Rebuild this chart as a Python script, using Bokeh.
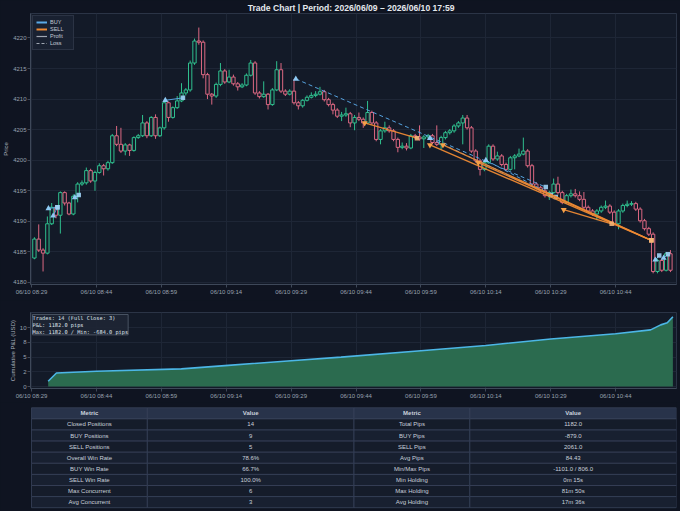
import pandas as pd
from bokeh.plotting import figure
from bokeh.models import (Range1d, FixedTicker, DatetimeTickFormatter, Legend, LegendItem,
                          Label, ColumnDataSource)
from bokeh.layouts import column
from bokeh.embed import file_html
from bokeh.resources import INLINE
from bokeh.core.properties import value

# ---------------- data ----------------
DAY = "2026-06-10"
CANDLE_START = "08:29:40"
first_open = 4184.0
closes = [4187.1, 4185.3, 4184.8, 4189.6, 4192.3, 4191.0, 4194.7, 4193.0, 4191.2, 4194.1,
          4196.1, 4196.3, 4198.3, 4196.6, 4198.0, 4199.1, 4198.6, 4199.6, 4204.0, 4202.6,
          4201.5, 4202.5, 4201.6, 4203.7, 4204.0, 4206.1, 4204.0, 4207.0, 4204.0, 4205.3,
          4209.4, 4207.0, 4208.6, 4209.7, 4211.0, 4211.5, 4215.9, 4219.5, 4219.3, 4214.0,
          4210.8, 4210.5, 4212.4, 4214.6, 4212.8, 4213.6, 4212.5, 4212.0, 4212.3, 4213.9,
          4215.9, 4211.0, 4210.4, 4210.8, 4209.1, 4211.5, 4214.8, 4211.3, 4210.8, 4211.3,
          4209.4, 4208.9, 4209.8, 4210.3, 4210.6, 4210.8, 4211.2, 4209.9, 4209.1, 4208.2,
          4207.2, 4207.4, 4207.6, 4206.1, 4207.0, 4206.7, 4206.1, 4207.8, 4206.1, 4203.4,
          4204.8, 4205.3, 4204.8, 4203.4, 4202.1, 4202.3, 4202.0, 4204.0, 4203.8, 4203.5,
          4203.8, 4204.0, 4202.9, 4202.6, 4203.7, 4204.5, 4204.8, 4205.6, 4206.1, 4206.9,
          4205.3, 4201.5, 4199.9, 4198.5, 4199.6, 4202.3, 4200.2, 4200.7, 4199.3, 4198.5,
          4200.4, 4200.7, 4201.0, 4201.5, 4199.1, 4196.1, 4195.5, 4195.0, 4194.2, 4194.7,
          4196.1, 4194.7, 4193.1, 4194.2, 4194.5, 4194.2, 4193.6, 4192.3, 4191.7, 4191.2,
          4191.7, 4192.3, 4192.5, 4191.5, 4189.6, 4191.7, 4192.6, 4192.8, 4192.9, 4192.0,
          4190.1, 4188.8, 4187.9, 4181.8, 4183.6, 4182.0, 4184.7, 4182.0]
highs = [4187.4, 4189.5, 4185.6, 4190.8, 4193.0, 4192.6, 4194.9, 4194.9, 4193.2, 4194.4,
         4196.4, 4196.7, 4198.8, 4198.6, 4198.3, 4199.5, 4199.4, 4199.9, 4204.3, 4205.6,
         4205.3, 4202.8, 4202.7, 4203.9, 4204.3, 4207.4, 4206.4, 4207.2, 4207.5, 4205.5,
         4209.8, 4209.6, 4208.8, 4210.5, 4212.6, 4211.8, 4216.3, 4219.9, 4221.7, 4219.6,
         4214.3, 4211.0, 4212.7, 4215.9, 4214.9, 4214.8, 4214.0, 4212.8, 4212.6, 4214.2,
         4216.4, 4216.2, 4211.3, 4212.9, 4211.0, 4211.8, 4216.2, 4215.9, 4211.6, 4211.6,
         4213.3, 4209.7, 4210.0, 4210.6, 4211.1, 4211.3, 4212.0, 4211.5, 4210.2, 4209.4,
         4208.5, 4207.9, 4208.6, 4207.9, 4207.4, 4207.8, 4207.0, 4209.7, 4208.1, 4206.4,
         4205.1, 4206.3, 4205.7, 4205.1, 4203.7, 4202.9, 4202.8, 4204.3, 4204.3, 4205.7,
         4204.1, 4204.3, 4204.3, 4205.7, 4204.0, 4204.8, 4205.1, 4205.9, 4206.4, 4207.4,
         4207.4, 4205.6, 4201.8, 4200.2, 4199.9, 4202.6, 4202.6, 4201.4, 4201.0, 4199.6,
         4200.7, 4201.0, 4201.9, 4203.7, 4201.8, 4199.4, 4196.4, 4195.8, 4195.3, 4195.0,
         4197.0, 4197.3, 4195.0, 4194.5, 4195.2, 4195.3, 4194.9, 4194.8, 4192.6, 4192.0,
         4192.0, 4192.6, 4193.4, 4192.8, 4191.8, 4192.0, 4192.9, 4193.4, 4193.3, 4193.2,
         4192.3, 4190.4, 4189.1, 4188.2, 4183.9, 4183.9, 4185.0, 4185.3]
lows = [4183.8, 4185.0, 4181.8, 4184.6, 4189.4, 4190.5, 4188.0, 4192.6, 4191.0, 4191.0,
        4193.1, 4195.8, 4196.0, 4196.3, 4195.0, 4197.8, 4197.5, 4198.3, 4199.4, 4202.3,
        4201.2, 4200.8, 4200.7, 4201.4, 4203.5, 4203.8, 4203.6, 4203.8, 4203.5, 4203.8,
        4205.0, 4206.3, 4206.8, 4208.4, 4209.5, 4210.6, 4211.2, 4215.6, 4218.9, 4213.4,
        4210.0, 4209.1, 4210.2, 4212.1, 4212.5, 4212.6, 4212.2, 4211.4, 4211.8, 4212.1,
        4213.7, 4210.7, 4210.1, 4210.2, 4208.3, 4208.9, 4211.3, 4211.0, 4210.5, 4210.6,
        4209.1, 4208.3, 4208.6, 4209.6, 4210.1, 4210.3, 4210.6, 4209.6, 4208.8, 4207.5,
        4206.9, 4206.4, 4207.1, 4205.4, 4204.9, 4206.4, 4205.3, 4205.9, 4205.8, 4203.1,
        4202.6, 4204.5, 4204.5, 4203.1, 4201.3, 4201.8, 4201.6, 4201.8, 4203.5, 4203.2,
        4202.0, 4203.5, 4202.6, 4202.3, 4201.7, 4203.4, 4204.2, 4204.5, 4205.3, 4202.6,
        4205.0, 4201.2, 4199.6, 4197.5, 4198.2, 4199.4, 4199.9, 4199.9, 4199.0, 4198.2,
        4198.3, 4198.5, 4200.5, 4200.8, 4198.8, 4195.8, 4195.2, 4194.7, 4193.9, 4193.5,
        4194.5, 4194.4, 4192.8, 4192.9, 4193.9, 4193.9, 4193.3, 4192.0, 4191.4, 4190.9,
        4190.2, 4191.4, 4192.0, 4191.2, 4189.3, 4188.7, 4191.4, 4192.3, 4192.5, 4191.7,
        4189.8, 4188.5, 4187.6, 4181.5, 4181.5, 4181.7, 4181.8, 4181.7]

tick_times = ["08:29", "08:44", "08:59", "09:14", "09:29", "09:44", "09:59", "10:14", "10:29", "10:44"]
price_ticks = [4180, 4185, 4190, 4195, 4200, 4205, 4210, 4215, 4220]

trade_side = ["BUY", "BUY", "BUY", "BUY", "BUY", "BUY", "BUY", "BUY", "BUY",
              "SELL", "SELL", "SELL", "SELL", "SELL"]
entry_time = ["08:32:55", "08:34:00", "08:39:00", "08:59:55", "09:30:05", "10:01:05", "10:14:00",
              "10:53:10", "10:55:05", "09:46:00", "10:01:05", "10:04:05", "10:12:15", "10:32:00"]
entry_price = [4192.1, 4190.9, 4193.9, 4209.8, 4213.3, 4203.6, 4200.0, 4183.7, 4184.0,
               4206.1, 4202.5, 4202.5, 4199.6, 4191.9]
exit_time = ["08:35:00", "08:35:00", "08:39:55", "09:04:00", "10:27:51", "10:29:00", "10:30:10",
             "10:54:05", "10:56:05", "09:58:05", "10:52:15", "10:52:15", "10:52:15", "10:43:05"]
exit_price = [4192.3, 4192.3, 4194.3, 4210.2, 4195.6, 4194.3, 4194.0, 4184.4, 4184.6,
              4203.6, 4186.9, 4186.9, 4186.9, 4189.6]

pnl_times = ["08:32:51", "08:34:46", "08:44:00", "09:03:37", "09:14:28", "09:29:00", "09:40:32",
             "09:59:00", "10:14:00", "10:29:00", "10:44:00", "10:52:05", "10:54:25", "10:55:56",
             "10:57:14"]
pnl_values = [0.9, 2.3, 2.6, 3.0, 3.6, 4.4, 5.0, 6.1, 7.0, 8.1, 9.0, 9.65, 10.5, 10.85, 11.9]
pnl_ticks = [0, 2.5, 5, 7.5, 10]
pnl_tick_labels = ["0", "2", "5", "8", "10"]

info_lines = ["Trades: 14 (Full Close: 3)", "P&L: 1182.0 pips", "Max: 1182.0 / Min: -684.0 pips"]

table_header = ["Metric", "Value", "Metric", "Value"]
metrics_left = ["Closed Positions", "BUY Positions", "SELL Positions", "Overall Win Rate",
                "BUY Win Rate", "SELL Win Rate", "Max Concurrent", "Avg Concurrent"]
values_left = ["14", "9", "5", "78.6%", "66.7%", "100.0%", "6", "3"]
metrics_right = ["Total Pips", "BUY Pips", "SELL Pips", "Avg Pips", "Min/Max Pips",
                 "Min Holding", "Max Holding", "Avg Holding"]
values_right = ["1182.0", "-879.0", "2061.0", "84.43", "-1101.0 / 806.0", "0m 15s",
                "81m 50s", "17m 36s"]

# ---------------- style ----------------
PAGE_BG = "#0f1421"
PLOT_BG = "#131a28"
GRID = "#1e2636"
UP = "#2fbf8e"
DOWN = "#dc6882"
BUY_C = "#5aaae8"
SELL_C = "#ee8a34"
FONT = "Liberation Sans"
LEFT_B = 29
RIGHT_B = 4


def ms(hms):
    return pd.Timestamp(f"{DAY} {hms}").value / 1e6


x_range = Range1d(ms("08:28:46"), ms("10:58:04"))
ticker = FixedTicker(ticks=[ms(t) for t in tick_times])
fmt = "%m/%d %H:%M"
formatter = DatetimeTickFormatter(seconds=fmt, minsec=fmt, minutes=fmt, hourmin=fmt, hours=fmt,
                                  days=fmt, months=fmt, years=fmt)


def style(p):
    p.background_fill_color = PLOT_BG
    p.border_fill_color = PAGE_BG
    p.outline_line_color = "#2b3446"
    p.grid.grid_line_color = GRID
    for ax in p.axis:
        ax.axis_line_color = "#3e4859"
        ax.major_tick_line_color = "#3e4859"
        ax.minor_tick_line_color = None
        ax.major_tick_out = 3
        ax.major_tick_in = 0
        ax.major_label_standoff = 1
        ax.major_label_text_color = "#98a1af"
        ax.major_label_text_font = FONT
        ax.major_label_text_font_size = "6px"
        ax.axis_label_text_font = FONT
        ax.axis_label_text_font_size = "6px"
        ax.axis_label_text_font_style = "normal"
        ax.axis_label_text_color = "#a9b1bd"
        ax.axis_label_standoff = 1


# ---------------- price chart ----------------
p1 = figure(width=680, height=300, x_range=x_range, y_range=Range1d(4179.67, 4224.0),
            x_axis_type="datetime", output_backend="svg", toolbar_location=None,
            min_border_left=LEFT_B, min_border_right=RIGHT_B, min_border_top=13, min_border_bottom=16,
            title="Trade Chart  |  Period: 2026/06/09 \u2013 2026/06/10 17:59")
style(p1)
p1.title.align = "center"
p1.title.text_font = FONT
p1.title.text_font_size = "8.6px"
p1.title.text_font_style = "bold"
p1.title.text_color = "#e4e8ee"
p1.title.standoff = 1
p1.title.offset = 0
p1.xaxis.ticker = ticker
p1.xaxis.formatter = formatter
p1.yaxis.ticker = FixedTicker(ticks=price_ticks)
p1.yaxis.axis_label = "Price"

t0 = ms(CANDLE_START)
times = [t0 + i * 60000 for i in range(len(closes))]
opens = [first_open] + closes[:-1]
colors = [UP if c >= o else DOWN for o, c in zip(opens, closes)]
src = ColumnDataSource(dict(t=times, o=opens, c=closes, h=highs, l=lows, col=colors,
                            top=[max(o, c) for o, c in zip(opens, closes)],
                            bot=[min(o, c) for o, c in zip(opens, closes)]))
p1.segment(x0="t", y0="l", x1="t", y1="h", line_color="col", line_width=1, source=src)
p1.vbar(x="t", width=46000, top="top", bottom="bot", fill_color=PLOT_BG, fill_alpha=1,
        line_color="col", line_width=1, source=src)

# trades
profit = [(xp > ep) if s == "BUY" else (xp < ep) for s, ep, xp in zip(trade_side, entry_price, exit_price)]
for side, col in (("BUY", BUY_C), ("SELL", SELL_C)):
    for win, dash in ((True, "solid"), (False, "4 3")):
        idx = [i for i in range(len(trade_side)) if trade_side[i] == side and profit[i] == win]
        if not idx:
            continue
        p1.segment(x0=[ms(entry_time[i]) for i in idx], y0=[entry_price[i] for i in idx],
                   x1=[ms(exit_time[i]) for i in idx], y1=[exit_price[i] for i in idx],
                   line_color=col, line_width=1.0 if side == "BUY" else 1.3, line_dash=dash,
                   line_alpha=0.95)
    idx = [i for i in range(len(trade_side)) if trade_side[i] == side]
    p1.scatter(x=[ms(entry_time[i]) for i in idx], y=[entry_price[i] for i in idx],
               marker="triangle" if side == "BUY" else "inverted_triangle", size=6,
               fill_color="#8ec9f3" if side == "BUY" else "#f5a048", line_color=None)
    p1.scatter(x=[ms(exit_time[i]) for i in idx], y=[exit_price[i] for i in idx],
               marker="square", size=4.5,
               fill_color="#9fd2f5" if side == "BUY" else "#f3b476", line_color=None, fill_alpha=0.9)

nan = float("nan")
r_buy = p1.line(x=[nan], y=[nan], line_color=BUY_C, line_width=2)
r_sell = p1.line(x=[nan], y=[nan], line_color=SELL_C, line_width=2)
r_prof = p1.line(x=[nan], y=[nan], line_color="#a0a7b2", line_width=1.2)
r_loss = p1.line(x=[nan], y=[nan], line_color="#a0a7b2", line_width=1.2, line_dash="3 2")
legend = Legend(items=[LegendItem(label="BUY", renderers=[r_buy]),
                       LegendItem(label="SELL", renderers=[r_sell]),
                       LegendItem(label="Profit", renderers=[r_prof]),
                       LegendItem(label="Loss", renderers=[r_loss])],
                location="top_left")
legend.label_text_font = FONT
legend.label_text_font_size = "5.5px"
legend.label_text_color = "#c3cad4"
legend.glyph_width = 11
legend.glyph_height = 6
legend.label_height = 6
legend.label_standoff = 3
legend.spacing = 1
legend.padding = 3
legend.margin = 2
legend.background_fill_color = "#1b2232"
legend.background_fill_alpha = 0.9
legend.border_line_color = "#3d4657"
p1.add_layout(legend)

# ---------------- cumulative P&L ----------------
p2 = figure(width=680, height=102, x_range=x_range, y_range=Range1d(-0.34, 12.61),
            x_axis_type="datetime", output_backend="svg", toolbar_location=None,
            min_border_left=LEFT_B, min_border_right=RIGHT_B, min_border_top=12, min_border_bottom=14)
style(p2)
p2.xaxis.ticker = ticker
p2.xaxis.formatter = formatter
p2.yaxis.ticker = FixedTicker(ticks=pnl_ticks)
p2.yaxis.major_label_overrides = {t: s for t, s in zip(pnl_ticks, pnl_tick_labels)}
p2.yaxis.axis_label = "Cumulative P&L (USD)"
px = [ms(t) for t in pnl_times]
p2.varea(x=px, y1=[0] * len(px), y2=pnl_values, fill_color="#2b6b4f", fill_alpha=1)
p2.line(x=px, y=pnl_values, line_color="#4cb6e6", line_width=1.6)
info = Label(x=2, y=74, x_units="screen", y_units="screen", text="\n".join(info_lines),
             text_font="DejaVu Sans Mono", text_font_size="5.3px", text_color="#dde2ea",
             text_align="left", text_baseline="top",
             background_fill_color="#1e2534", background_fill_alpha=0.92,
             border_line_color="#56606f", border_line_width=0.8)
p2.add_layout(info)

# ---------------- stats table ----------------
p3 = figure(width=680, height=109, x_range=Range1d(LEFT_B, 680 - RIGHT_B), y_range=Range1d(109, 0),
            x_axis_type=None, y_axis_type=None, output_backend="svg", toolbar_location=None,
            min_border_left=LEFT_B, min_border_right=RIGHT_B, min_border_top=0, min_border_bottom=0)
p3.background_fill_color = PAGE_BG
p3.border_fill_color = PAGE_BG
p3.outline_line_color = None
p3.grid.visible = False

col_edges = [30, 146, 353, 469, 676]
row_h = 11.1
top0 = 5.3
rows = [table_header] + [list(r) for r in zip(metrics_left, values_left, metrics_right, values_right)]
ql, qr, qt, qb, qc, tx, ty, tt, tw = [], [], [], [], [], [], [], [], []
for r, row in enumerate(rows):
    for c, txt in enumerate(row):
        ql.append(col_edges[c]); qr.append(col_edges[c + 1])
        qt.append(top0 + r * row_h); qb.append(top0 + (r + 1) * row_h)
        qc.append("#28334a" if r == 0 else ("#151c2a" if r % 2 else "#182030"))
        tx.append((col_edges[c] + col_edges[c + 1]) / 2)
        ty.append(top0 + (r + 0.5) * row_h)
        tt.append(txt)
        tw.append("bold" if r == 0 else "normal")
p3.quad(left=ql, right=qr, top=qt, bottom=qb, fill_color=qc, line_color="#38425a", line_width=0.8)
tsrc = ColumnDataSource(dict(x=tx, y=ty, t=tt, w=tw))
p3.text(x="x", y="y", text="t", text_font_style="w", source=tsrc, text_align="center",
        text_baseline="middle", text_font=value(FONT), text_font_size="6px", text_color="#c9d0db")

layout = column(p1, p2, p3, spacing=0)
html = file_html(layout, INLINE, title="Trade Chart")
html = html.replace("</head>", "<style>html,body{margin:0;padding:0;background:%s;overflow:hidden}</style></head>" % PAGE_BG)
open("out.html", "w").write(html)
